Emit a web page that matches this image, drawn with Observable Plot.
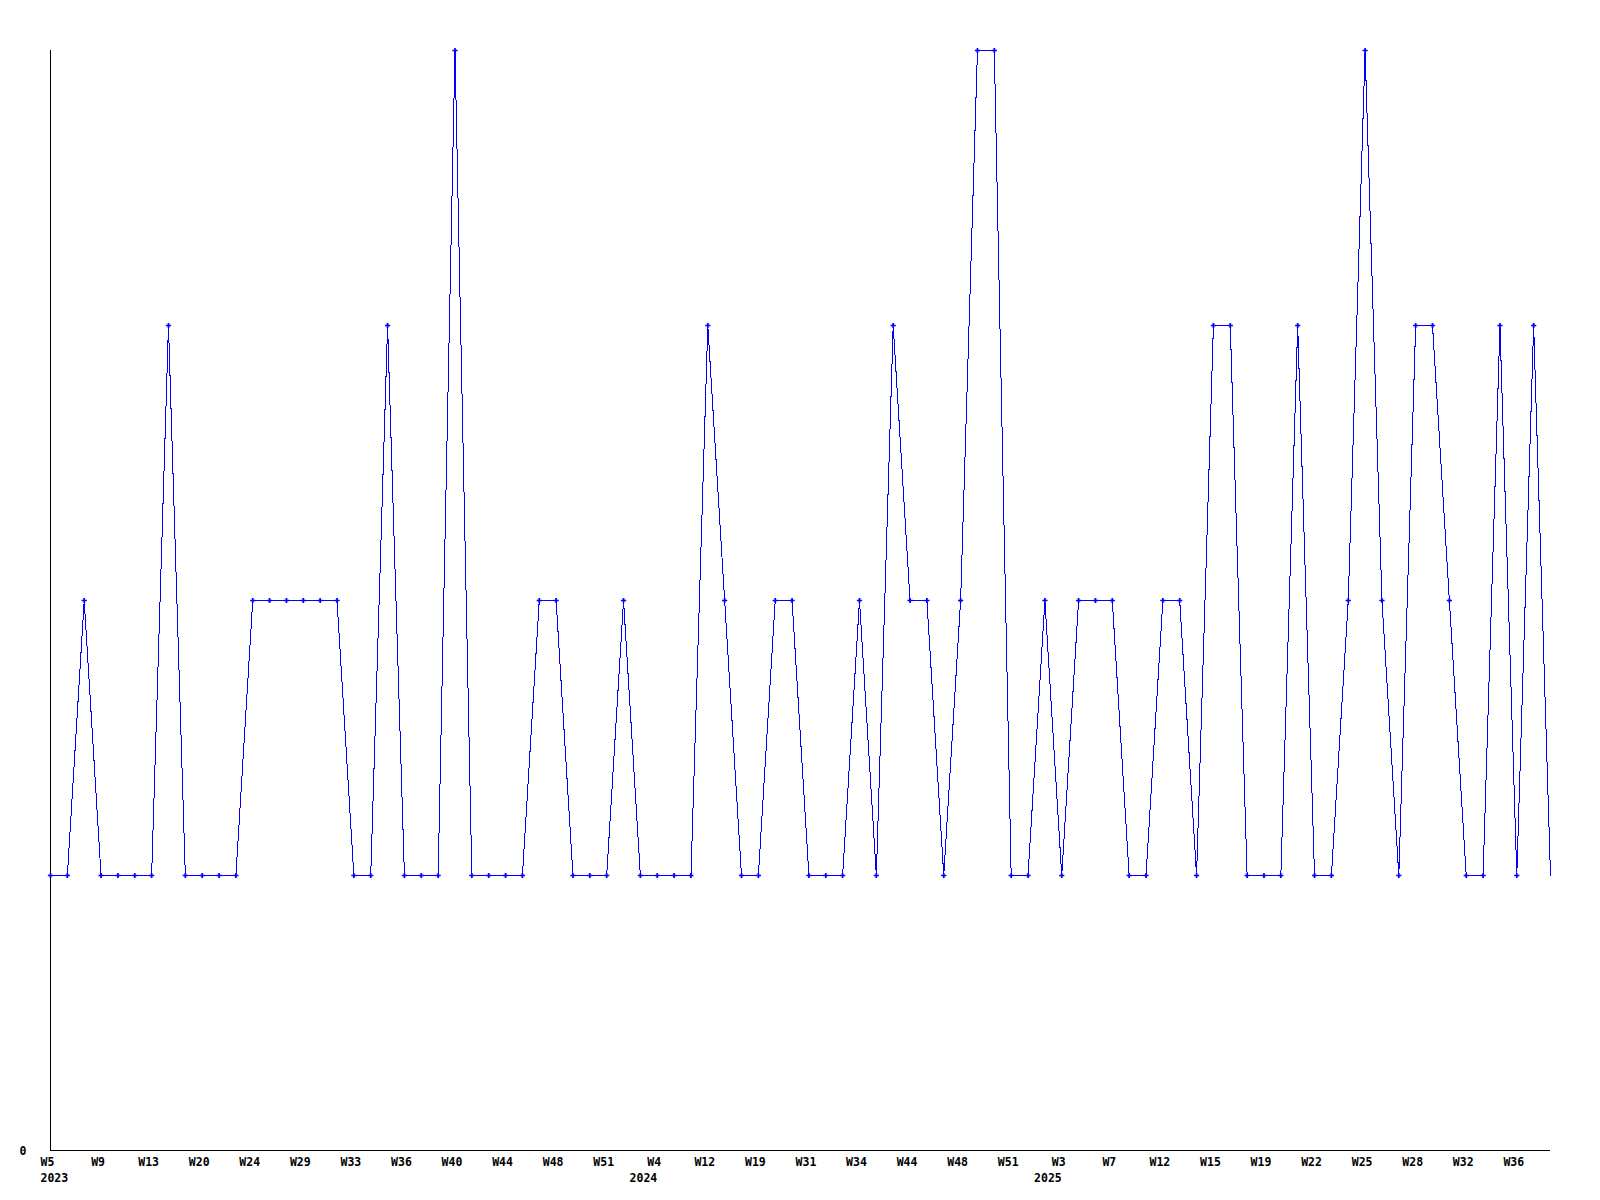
<!DOCTYPE html>
<html>
<head>
<meta charset="utf-8">
<script src="https://cdn.jsdelivr.net/npm/d3@7"></script>
<script src="https://cdn.jsdelivr.net/npm/@observablehq/plot@0.6"></script>
<style>
  html, body { margin: 0; padding: 0; background: #fff; }
  #chart svg { display: block; }
  #chart svg .crisp path, #chart svg .crisp line { shape-rendering: crispEdges; }
</style>
</head>
<body>
<div id="chart"></div>
<script>
// Weekly counts (one value per plotted week, in order)
const values = [
  1, 1, 2, 1, 1, 1, 1, 3, 1, 1,
  1, 1, 2, 2, 2, 2, 2, 2, 1, 1,
  3, 1, 1, 1, 4, 1, 1, 1, 1, 2,
  2, 1, 1, 1, 2, 1, 1, 1, 1, 3,
  2, 1, 1, 2, 2, 1, 1, 1, 2, 1,
  3, 2, 2, 1, 2, 4, 4, 1, 1, 2,
  1, 2, 2, 2, 1, 1, 2, 2, 1, 3,
  3, 1, 1, 1, 3, 1, 1, 2, 4, 2,
  1, 3, 3, 2, 1, 1, 3, 1, 3, 1
];

// Week tick labels, shown on every 3rd week
const tickWeeks = [
  "W5", "W9", "W13", "W20", "W24", "W29", "W33", "W36", "W40", "W44",
  "W48", "W51", "W4", "W12", "W19", "W31", "W34", "W44", "W48", "W51",
  "W3", "W7", "W12", "W15", "W19", "W22", "W25", "W28", "W32", "W36"
];
const tickStep = 3;

// Year labels and the tick (index into tickWeeks) where each year starts
const years = ["2023", "2024", "2025"];
const yearTickIndex = [0, 12, 20];

const data = values.map((v, i) => ({i, v}));
const ticks = tickWeeks.map((w, k) => ({i: k * tickStep, label: w}));
const yearRows = years.map((y, k) => ({i: yearTickIndex[k] * tickStep, label: y}));
const last = values.length - 1;

const font = "'DejaVu Sans Mono', monospace";

const chart = Plot.plot({
  width: 1600,
  height: 1200,
  marginLeft: 50,
  marginRight: 50,
  marginTop: 50,
  marginBottom: 50,
  style: {fontFamily: font, fontSize: "11.5px", fontWeight: "bold", background: "#fff", color: "#000"},
  x: {domain: [0, last], axis: null},
  y: {domain: [0, 4], axis: null},
  marks: [
    Plot.ruleX([0], {y1: 0, y2: 4, stroke: "#000", strokeWidth: 1, className: "crisp"}),
    Plot.ruleY([0], {x1: 0, x2: last, stroke: "#000", strokeWidth: 1, className: "crisp"}),
    Plot.line(data, {x: "i", y: "v", stroke: "#0000ff", strokeWidth: 1, curve: "linear", className: "crisp"}),
    Plot.dot(data.filter(d => d.i < last), {x: "i", y: "v", symbol: "cross", r: 2.2, fill: "#0000ff", stroke: "none"}),
    Plot.text(["0"], {x: 0, y: 0, text: d => d, textAnchor: "end", lineAnchor: "middle", dx: -24, dy: 1, fill: "#000"}),
    Plot.text(ticks, {x: "i", text: "label", frameAnchor: "bottom", lineAnchor: "middle", dy: 12, dx: -3, fill: "#000"}),
    Plot.text(yearRows.filter(d => d.i === 0), {
      x: "i", text: "label", frameAnchor: "bottom", lineAnchor: "middle", dy: 28, fill: "#000",
      textAnchor: "start", dx: -10
    }),
    Plot.text(yearRows.filter(d => d.i !== 0), {
      x: "i", text: "label", frameAnchor: "bottom", lineAnchor: "middle", dy: 28, fill: "#000",
      textAnchor: "end", dx: 0
    })
  ]
});

document.getElementById("chart").appendChild(chart);
</script>
</body>
</html>
